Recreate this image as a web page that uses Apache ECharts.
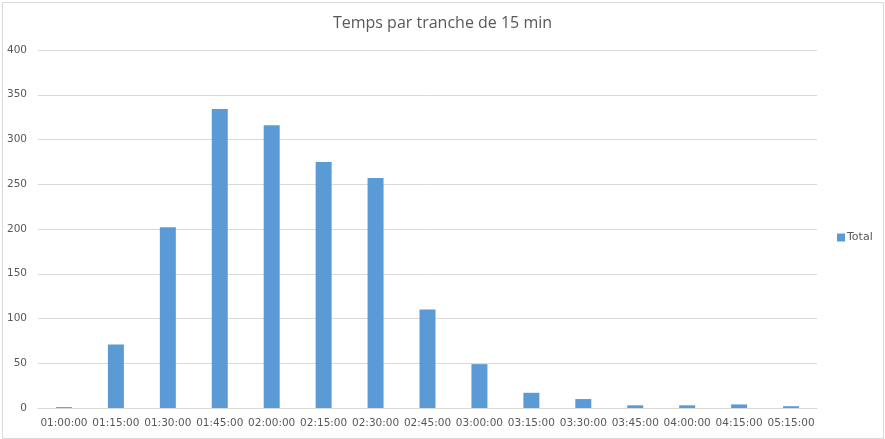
<!DOCTYPE html>
<html>
<head>
<meta charset="utf-8">
<script src="https://cdn.jsdelivr.net/npm/echarts@6/dist/echarts.min.js"></script>
<style>
html,body{margin:0;padding:0;background:#fff;}
#c{width:885px;height:439px;}
</style>
</head>
<body>
<div id="c"></div>
<script>
const categories = ['01:00:00','01:15:00','01:30:00','01:45:00','02:00:00','02:15:00','02:30:00','02:45:00','03:00:00','03:15:00','03:30:00','03:45:00','04:00:00','04:15:00','05:15:00'];
const totalValues = [1, 71, 202, 334, 316, 275, 257, 110, 49, 17, 10, 3, 3, 4, 2];
const seriesName = 'Total';
const titleText = 'Temps par tranche de 15 min';

const chart = echarts.init(document.getElementById('c'));
chart.setOption({
  animation: false,
  backgroundColor: '#fff',
  graphic: [{
    type: 'rect', left: 0, top: 0, z: -1,
    shape: {x: 0.5, y: 0.5, width: 881, height: 436},
    style: {fill: 'none', stroke: '#d9d9d9', lineWidth: 1}
  }],
  title: {
    text: titleText,
    left: 'center',
    top: 10,
    textStyle: {fontFamily: 'Open Sans', fontSize: 16, fontWeight: 'normal', color: '#595959'}
  },
  legend: {
    orient: 'vertical',
    left: 832,
    top: 227,
    itemWidth: 8,
    itemHeight: 8,
    itemGap: 4,
    icon: 'rect',
    textStyle: {fontFamily: 'DejaVu Sans', fontSize: 11, color: '#595959', padding: [0,0,0,-3]},
    data: [seriesName]
  },
  grid: {left: 38, right: 68, top: 50, bottom: 31, containLabel: false},
  xAxis: {
    type: 'category',
    data: categories,
    axisLine: {lineStyle: {color: '#d9d9d9'}},
    axisTick: {show: false},
    axisLabel: {color: '#595959', fontFamily: 'DejaVu Sans', fontSize: 10.5, margin: 10, interval: 0}
  },
  yAxis: {
    type: 'value',
    min: 0, max: 400, interval: 50,
    axisLine: {show: false},
    axisTick: {show: false},
    splitLine: {lineStyle: {color: '#d9d9d9'}},
    axisLabel: {color: '#595959', fontFamily: 'DejaVu Sans', fontSize: 10.5, margin: 11}
  },
  series: [{
    name: seriesName,
    type: 'bar',
    data: totalValues,
    barWidth: 16,
    itemStyle: {color: '#5b9bd5'}
  }]
});
</script>
</body>
</html>
